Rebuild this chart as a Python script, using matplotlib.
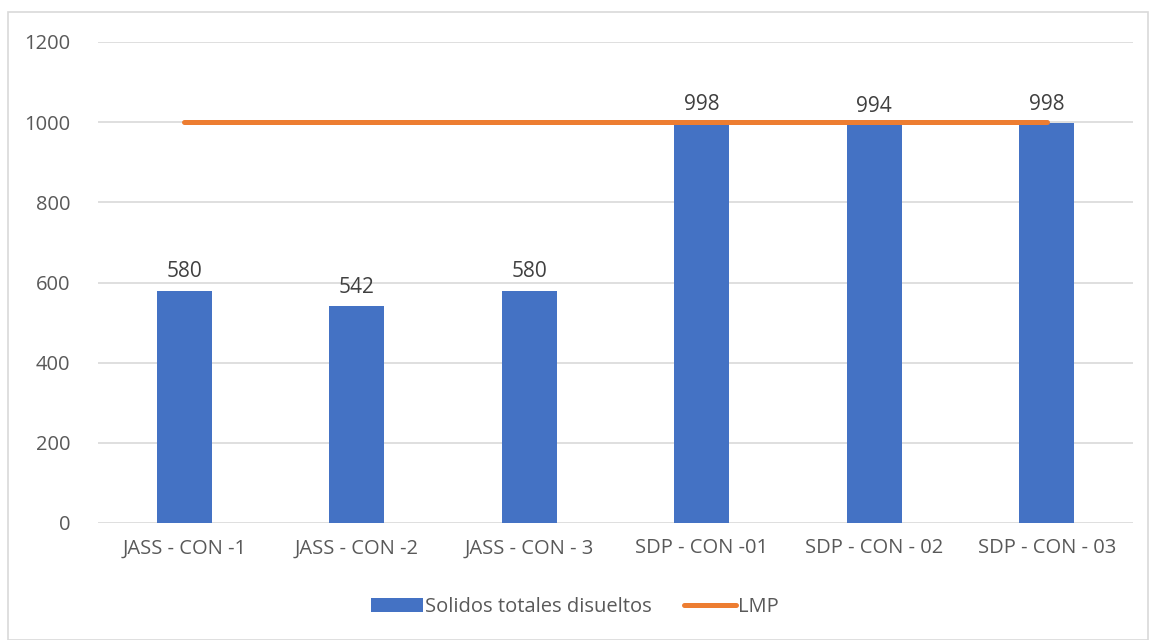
import matplotlib.pyplot as plt
from matplotlib.patches import Rectangle

# Datos
categorias = ['JASS - CON -1', 'JASS - CON -2', 'JASS - CON - 3',
              'SDP - CON -01', 'SDP - CON - 02', 'SDP - CON - 03']
std = [580, 542, 580, 998, 994, 998]
lmp = [1000, 1000, 1000, 1000, 1000, 1000]
yticks = [0, 200, 400, 600, 800, 1000, 1200]

plt.rcParams['font.family'] = ['Open Sans', 'DejaVu Sans']
gris = '#595959'

fig = plt.figure(figsize=(11.5, 6.4), dpi=100)
ax = fig.add_axes([98/1150, 1 - 523/640, (1133 - 98)/1150, (523 - 42)/640])

x = list(range(len(categorias)))
barras = ax.bar(x, std, width=0.32, color='#4472C4', zorder=2,
                label='Solidos totales disueltos')
linea, = ax.plot(x, lmp, color='#ED7D31', lw=3.6, solid_capstyle='round', zorder=3,
                 label='LMP')

for xi, v in zip(x, std):
    ax.text(xi, v + 20, str(v), ha='center', va='bottom', fontsize=15, color='#404040')

ax.set_xlim(-0.5, len(categorias) - 0.5)
ax.set_ylim(0, 1200)
ax.set_yticks(yticks)
ax.set_xticks(x)
ax.set_xticklabels(categorias)
ax.tick_params(axis='both', length=0, labelsize=14.5, colors=gris)
ax.tick_params(axis='y', pad=20)
ax.tick_params(axis='x', pad=11)
ax.grid(axis='y', color='#D9D9D9', lw=1.2, zorder=0)
for s in ax.spines.values():
    s.set_visible(False)

leg = fig.legend([barras, linea], ['Solidos totales disueltos', 'LMP'],
                 loc='center', bbox_to_anchor=(0.5, 1 - 607/640), ncol=2,
                 frameon=False, fontsize=14.5, handlelength=2.6,
                 handleheight=0.7, columnspacing=1.6, handletextpad=0.1)
for t in leg.get_texts():
    t.set_color(gris)

# marco del gráfico
fig.patches.append(Rectangle((8/1150, 0), 1140/1150, 1 - 12/640,
                             transform=fig.transFigure, fill=False,
                             edgecolor='#D9D9D9', lw=1.2))

fig.savefig('out.png', dpi=100)
